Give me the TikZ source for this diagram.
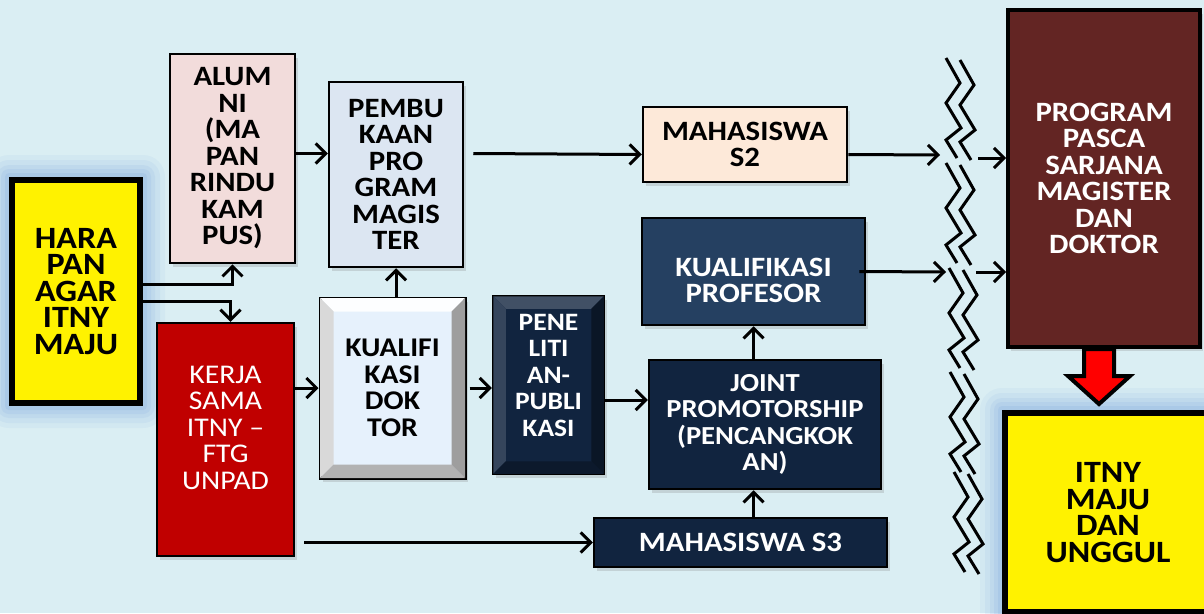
\documentclass[tikz,border=0pt]{standalone}
\usepackage{fontspec}
\setmainfont{Carlito}[FakeStretch=1.1]
\usepackage{tikz}
\usetikzlibrary{arrows.meta, positioning, calc, shadows, backgrounds}
\definecolor{bgblue}{HTML}{DAEEF3}
\definecolor{glowblue}{HTML}{8DB4E2}
\definecolor{alumpink}{HTML}{F2DCDB}
\definecolor{magblue}{HTML}{DCE6F2}
\definecolor{peach}{HTML}{FDE9D9}
\definecolor{profblue}{HTML}{254061}
\definecolor{navy}{HTML}{11243F}
\definecolor{kerjared}{HTML}{C00000}
\definecolor{pascabrown}{HTML}{632523}
\definecolor{doktorface}{HTML}{E6F1FC}
% bevel sides: node, top, left, bottom, right, width
\newcommand{\bevelsides}[6]{%
  \fill[#2] ($(#1.north west)+(1.5,1.5)$) -- ($(#1.north east)+(-1.5,1.5)$) -- ($(#1.north east)+(-#6,#6)$) -- ($(#1.north west)+(#6,#6)$) -- cycle;
  \fill[#3] ($(#1.north west)+(1.5,1.5)$) -- ($(#1.south west)+(1.5,-1.5)$) -- ($(#1.south west)+(#6,-#6)$) -- ($(#1.north west)+(#6,#6)$) -- cycle;
  \fill[#4] ($(#1.south west)+(1.5,-1.5)$) -- ($(#1.south east)+(-1.5,-1.5)$) -- ($(#1.south east)+(-#6,-#6)$) -- ($(#1.south west)+(#6,-#6)$) -- cycle;
  \fill[#5] ($(#1.north east)+(-1.5,1.5)$) -- ($(#1.south east)+(-1.5,-1.5)$) -- ($(#1.south east)+(-#6,-#6)$) -- ($(#1.north east)+(-#6,#6)$) -- cycle;
}
\tikzset{
  base/.style={draw, line width=2.5pt, align=center, inner sep=0pt, font=\bfseries\fontsize{28}{26.5}\selectfont},
  box/.style={base, drop shadow={shadow xshift=3pt, shadow yshift=-4pt, opacity=0.25}},
  goal/.style={base, fill=yellow, line width=6pt, font=\bfseries\fontsize{31}{26.5}\selectfont},
  darkbox/.style={box, fill=navy, text=white},
  boxtext/.style={align=center, inner sep=0pt},
  link/.style={-{Straight Barb[length=10pt, width=20pt]}, line width=3pt},
  zig/.style={line width=3pt},
  blockarrow/.style={draw, line width=4pt, fill=red, line join=miter}
}
\begin{document}
\begin{tikzpicture}[x=1pt, y=-1pt]
  \useasboundingbox (0,0) rectangle (1204,613);
  \begin{scope}[on background layer]
    \fill[bgblue] (0,0) rectangle (1204,613);
  \end{scope}

  % nodes
  \node[goal, minimum width=128pt, minimum height=223pt] (harapan) at (76,291.5) {HARA\\PAN\\AGAR\\ITNY\\MAJU};
  \node[box, fill=alumpink, minimum width=125pt, minimum height=209pt] (alumni) at (232.5,158.5) {ALUM\\NI\\(MA\\PAN\\RINDU\\KAM\\PUS)};
  \node[box, fill=magblue, minimum width=134pt, minimum height=185pt] (pembukaan) at (396,174.5) {PEMBU\\KAAN\\PRO\\GRAM\\MAGIS\\TER};
  \node[box, fill=peach, minimum width=204pt, minimum height=75pt] (mhss2) at (745,144.5) {MAHASISWA\\S2};
  \node[box, fill=profblue, minimum width=223pt, minimum height=107pt] (kprof) at (753.5,271.5) {};
  \node[box, fill=kerjared, minimum width=137pt, minimum height=233pt] (kerja) at (225.5,439.5) {};
  \node[box, fill=doktorface, line width=3pt, minimum width=145pt, minimum height=180pt] (kdoktor) at (392.5,388) {};
  \node[darkbox, minimum width=111pt, minimum height=178pt] (penelitian) at (548.5,385) {};
  \node[darkbox, minimum width=232pt, minimum height=129pt, font=\bfseries\fontsize{26}{26.5}\selectfont] (joint) at (765,424.5) {JOINT\\PROMOTORSHIP\\(PENCANGKOK\\AN)};
  \node[darkbox, minimum width=293pt, minimum height=49pt] (mhss3) at (740.5,542.5) {MAHASISWA S3};
  \node[box, fill=pascabrown, text=white, line width=4pt, minimum width=192pt, minimum height=337pt, font=\bfseries\fontsize{28}{26.5}\selectfont] (pasca) at (1104,178.5) {PROGRAM\\PASCA\\SARJANA\\MAGISTER\\DAN\\DOKTOR};
  \node[goal, minimum width=206pt, minimum height=199pt] (unggul) at (1108,512.5) {ITNY\\MAJU\\DAN\\UNGGUL};

  % bevelled boxes
  \bevelsides{kdoktor}{white!92!doktorface}{black!15}{black!30}{black!38}{15}
  \bevelsides{penelitian}{navy!80!white}{navy!85!white}{navy!70!black}{navy!60!black}{14}

  % texts set apart from their boxes
  \node[boxtext, text=white, font=\bfseries\fontsize{28}{26.5}\selectfont] (kproftxt) at ([yshift=-9pt]kprof) {KUALIFIKASI\\PROFESOR};
  \node[boxtext, text=white, font=\fontsize{27}{26.5}\selectfont] (kerjatxt) at ([yshift=12pt]kerja) {KERJA\\SAMA\\ITNY --\\FTG\\UNPAD};
  \node[boxtext, font=\bfseries\fontsize{27}{26.5}\selectfont] (kdoktortxt) at (kdoktor) {KUALIFI\\KASI\\DOK\\TOR};
  \node[boxtext, text=white, font=\bfseries\fontsize{25}{26.5}\selectfont] (penelititxt) at ([yshift=10pt]penelitian) {PENE\\LITI\\AN-\\PUBLI\\KASI};

  % glow
  \begin{scope}[on background layer]
    \foreach \g/\o in {22/0.10, 17/0.13, 12/0.16, 8/0.2, 4/0.25} {
      \fill[glowblue, opacity=\o, rounded corners=\g pt] ($(harapan.north west)+(-\g,-\g)$) rectangle ($(harapan.south east)+(\g,\g)$);
      \fill[glowblue, opacity=\o, rounded corners=\g pt] ($(unggul.north west)+(-\g,-\g)$) rectangle ($(unggul.south east)+(\g,\g)$);
    }
  \end{scope}

  % break lines
  \foreach \x/\y in {946/58, 946/163, 949/268, 950/372, 954/472} {
    \draw[zig] (\x,\y) -- ++(14,25) -- ++(-14,20) -- ++(15,25) -- ++(-15,12) -- ++(11,18);
    \draw[zig] (\x+14,\y+2) -- ++(14,25) -- ++(-14,20) -- ++(15,25) -- ++(-15,12) -- ++(11,18);
  }
  \coordinate (brk1in) at (940,155);
  \coordinate (brk1out) at (978,158);
  \coordinate (brk2in) at (946,272);
  \coordinate (brk2out) at (976,272);

  % connectors
  \draw[link] ([yshift=7pt]harapan.east) -| (alumni.south);
  \draw[link] ([yshift=-10pt]harapan.east) -| ([xshift=5pt]kerja.north);
  \draw[link] ([yshift=5pt]alumni.east) -- ([yshift=5pt]alumni.east -| pembukaan.west);
  \draw[link] (kdoktor.north -| pembukaan.south) -- (pembukaan.south);
  \draw[link] ([xshift=9pt, yshift=21pt]pembukaan.east) -- ([yshift=-10pt]mhss2.west);
  \draw[link] ([yshift=-10pt]mhss2.east) -- (brk1in);
  \draw[link] (brk1out) -- (brk1out -| pasca.west);
  \draw[link] ([xshift=-7pt]kprof.east) -- (brk2in);
  \draw[link] (brk2out) -- (brk2out -| pasca.west);
  \draw[link] (kerja.east |- kdoktor.west) -- (kdoktor.west);
  \draw[link] ([xshift=3pt]kdoktor.east) -- (kdoktor.east -| penelitian.west);
  \draw[link] ([yshift=-15pt]penelitian.east) -- ([yshift=-15pt]penelitian.east -| joint.west);
  \draw[link] (kprof.south |- joint.north) -- (kprof.south);
  \draw[link] (kprof.south |- mhss3.north) -- (kprof.south |- joint.south);
  \draw[link] ([xshift=9pt]kerja.east |- mhss3.west) -- (mhss3.west);
  \draw[blockarrow] ($(pasca.south)+(-20,0)$) -- ($(pasca.south)+(10,0)$) -- ($(pasca.south)+(10,27)$) -- ($(pasca.south)+(26,27)$) -- ($(pasca.south)+(-5,55)$) -- ($(pasca.south)+(-36,27)$) -- ($(pasca.south)+(-20,27)$) -- cycle;
\end{tikzpicture}
\end{document}
